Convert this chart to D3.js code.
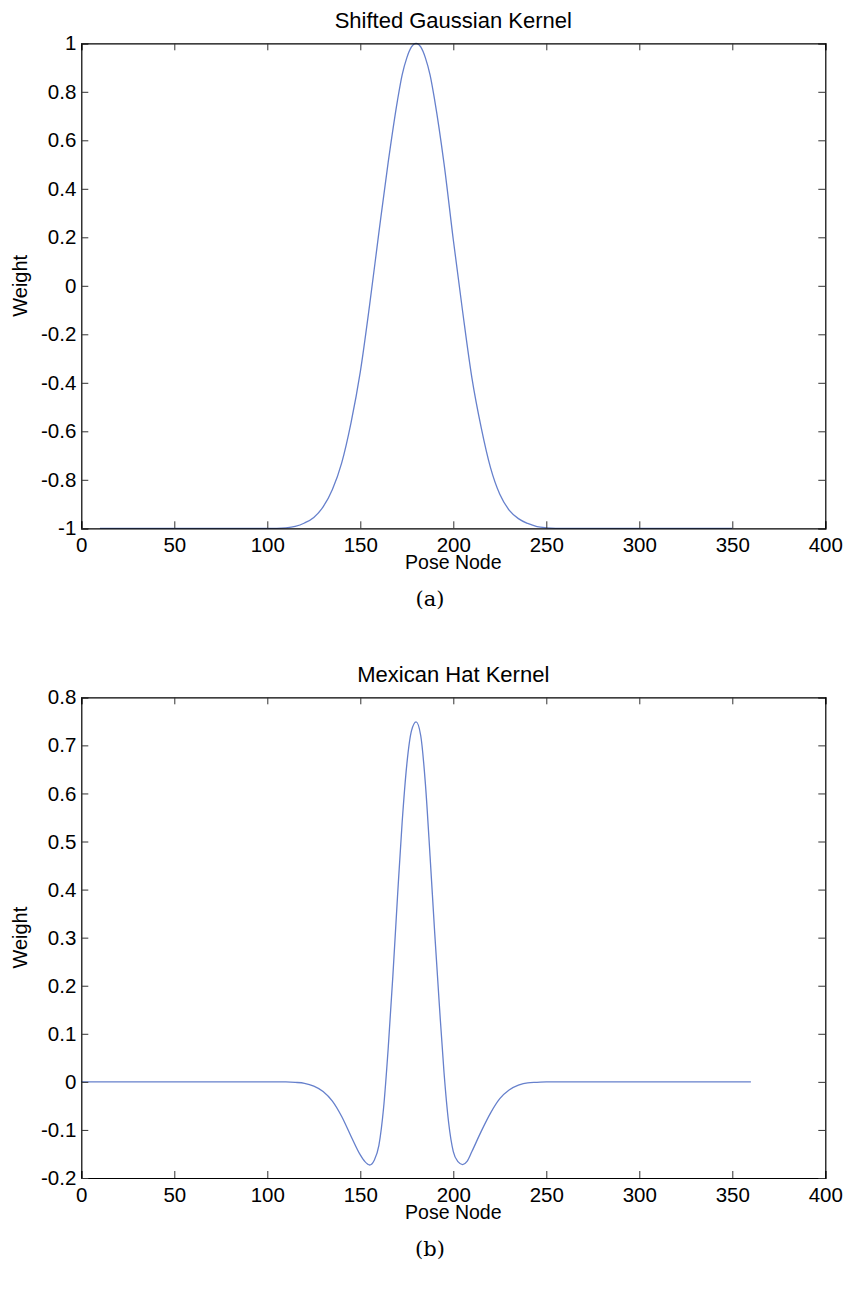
<!DOCTYPE html>
<html>
<head>
<meta charset="utf-8">
<script src="https://cdn.jsdelivr.net/npm/d3@7"></script>
<style>
  body { margin: 0; background: #fff; }
  text { font-family: "Liberation Sans", Arial, sans-serif; fill: #000; }
  .cap { font-family: "DejaVu Serif", "Liberation Serif", serif; }
</style>
</head>
<body>
<svg id="fig" width="846" height="1289"></svg>
<script>
// x positions (pose node) and weights
var gaussX = [10, 20, 30, 40, 50, 60, 70, 80, 90, 100, 105, 110, 115, 120, 125, 130, 135, 140, 145, 150,
              155, 160, 165, 170, 172.5, 175, 177.5, 180, 182.5, 185, 187.5, 190, 195, 200, 205, 210,
              215, 220, 225, 230, 235, 240, 245, 250, 255, 260, 270, 280, 290, 300, 310, 320, 330, 340, 350];
var gaussY = [-1, -1, -1, -1, -1, -1, -1, -1, -1, -1, -1, -0.998, -0.992, -0.978, -0.955, -0.912, -0.84, -0.73, -0.565, -0.355,
              -0.08, 0.22, 0.51, 0.765, 0.87, 0.94, 0.985, 1.0, 0.985, 0.94, 0.87, 0.765, 0.505, 0.19, -0.105, -0.38,
              -0.585, -0.75, -0.86, -0.925, -0.96, -0.98, -0.993, -0.998, -1, -1, -1, -1, -1, -1, -1, -1, -1, -1, -1];

var hatX = [0, 20, 40, 60, 80, 100, 110, 115, 120, 125, 130, 135, 140, 145, 150, 152.5, 155, 157.5, 160,
            162.5, 165, 167.5, 170, 172.5, 175, 177.5, 180, 182.5, 185, 187.5, 190, 192.5, 195, 197.5,
            200, 202.5, 205, 207.5, 210, 215, 220, 225, 230, 235, 240, 245, 250, 260, 280, 300, 320, 340, 360];
var hatY = [0, 0, 0, 0, 0, 0, 0, -0.001, -0.003, -0.009, -0.02, -0.04, -0.072, -0.113, -0.152, -0.166, -0.173, -0.163, -0.132,
            -0.055, 0.07, 0.22, 0.385, 0.54, 0.66, 0.73, 0.749, 0.72, 0.62, 0.47, 0.31, 0.16, 0.02, -0.085,
            -0.145, -0.166, -0.172, -0.165, -0.145, -0.103, -0.065, -0.035, -0.017, -0.007, -0.002, -0.001, 0, 0, 0, 0, 0, 0, 0];

var xTicks = [0, 50, 100, 150, 200, 250, 300, 350, 400];
var gaussTicks = [-1, -0.8, -0.6, -0.4, -0.2, 0, 0.2, 0.4, 0.6, 0.8, 1];
var hatTicks = [-0.2, -0.1, 0, 0.1, 0.2, 0.3, 0.4, 0.5, 0.6, 0.7, 0.8];

var svg = d3.select("#fig");
var left = 81.3, right = 825.3;

function fmt(d) { return String(+d.toFixed(2)); }

function panel(opt) {
  var x = d3.scaleLinear().domain([0, 400]).range([left, right]);
  var y = d3.scaleLinear().domain(opt.ydom).range([opt.bottom, opt.top]);
  var g = svg.append("g");
  var h = opt.bottom - opt.top;

  var line = d3.line()
      .x(function(d) { return x(d[0]); })
      .y(function(d) { return y(d[1]); })
      .curve(d3.curveMonotoneX);
  g.append("path")
      .datum(d3.zip(opt.xs, opt.ys))
      .attr("d", line)
      .attr("fill", "none")
      .attr("stroke", "#6680cc")
      .attr("stroke-width", 1.3);

  // axes, MATLAB-style: ticks inward on all four sides
  var bx = d3.axisBottom(x).tickValues(xTicks).tickSize(-7).tickPadding(9).tickFormat(fmt);
  var tx = d3.axisTop(x).tickValues(xTicks).tickSize(-7).tickFormat("");
  var ly = d3.axisLeft(y).tickValues(opt.yticks).tickSize(-7).tickPadding(5).tickFormat(fmt);
  var ry = d3.axisRight(y).tickValues(opt.yticks).tickSize(-7).tickFormat("");

  g.append("g").attr("transform", "translate(0," + opt.bottom + ")").call(bx);
  g.append("g").attr("transform", "translate(0," + opt.top + ")").call(tx);
  g.append("g").attr("transform", "translate(" + left + ",0)").call(ly);
  g.append("g").attr("transform", "translate(" + right + ",0)").call(ry);

  g.selectAll(".domain").attr("stroke", "#000").attr("stroke-width", 1.2);
  g.selectAll(".tick line").attr("stroke", "#333");
  g.selectAll(".tick text")
      .style("font-family", "Liberation Sans, Arial, sans-serif")
      .style("font-size", "20.5px")
      .attr("fill", "#000");

  g.append("text")
      .attr("x", (left + right) / 2).attr("y", opt.top - 15)
      .attr("text-anchor", "middle")
      .style("font-size", "22px")
      .text(opt.title);
  g.append("text")
      .attr("x", (left + right) / 2).attr("y", opt.bottom + 41)
      .attr("text-anchor", "middle")
      .style("font-size", "19.5px")
      .text("Pose Node");
  g.append("text")
      .attr("transform", "translate(27," + (opt.top + h / 2) + ") rotate(-90)")
      .attr("text-anchor", "middle")
      .style("font-size", "20px")
      .text("Weight");
  g.append("text")
      .attr("class", "cap")
      .attr("x", 430).attr("y", opt.bottom + 78)
      .attr("text-anchor", "middle")
      .style("font-size", "21px")
      .text(opt.caption);
}

panel({ top: 43.3, bottom: 528.3, ydom: [-1, 1], yticks: gaussTicks,
        xs: gaussX, ys: gaussY, title: "Shifted Gaussian Kernel", caption: "(a)" });
panel({ top: 697.3, bottom: 1178, ydom: [-0.2, 0.8], yticks: hatTicks,
        xs: hatX, ys: hatY, title: "Mexican Hat Kernel", caption: "(b)" });
</script>
</body>
</html>
